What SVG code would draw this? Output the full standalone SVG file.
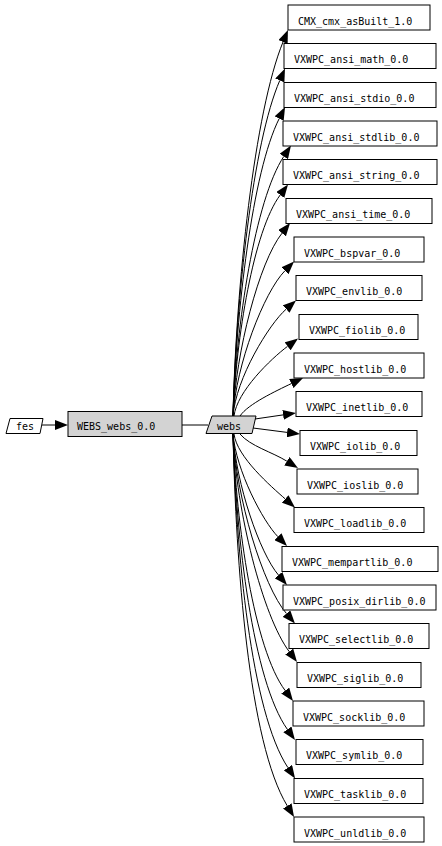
<svg xmlns="http://www.w3.org/2000/svg" width="442" height="846" viewBox="0 0 442 846">
<defs>
<marker id="ah" viewBox="0 0 13 10" refX="0" refY="5" markerWidth="13" markerHeight="10" markerUnits="userSpaceOnUse" orient="auto">
<path d="M0,0 L13,5 L0,10 z" fill="#000"/>
</marker>
<style>
.b{fill:#fff;stroke:#000;stroke-width:1}
.g{fill:#d3d3d3;stroke:#000;stroke-width:1}
.t{font-family:"DejaVu Sans Mono","Liberation Mono",monospace;font-size:10px;fill:#000}
.e{fill:none;stroke:#000;stroke-width:1;marker-end:url(#ah)}
.l{fill:none;stroke:#000;stroke-width:1}
</style>
</defs>
<rect width="442" height="846" fill="#fff"/>
<g id="edges">
<path class="e" d="M42,425 L55,425"/>
<path class="l" d="M182,425 L208,425"/>
<path class="e" d="M233,416 C236,284.8 254.7,111 283,42"/>
<path class="e" d="M233,416 C236,298.2 253,141.9 279.8,80.4"/>
<path class="e" d="M233,416 C236,311.6 252.4,171.6 279.2,118.6"/>
<path class="e" d="M233,416 C236,324.8 255.2,199.8 283.8,156.4"/>
<path class="e" d="M233,416 C236,338.3 253.6,230.4 280.2,195"/>
<path class="e" d="M233,416 C236,351.7 259,262.2 282,233.2"/>
<path class="e" d="M233,416 C236,364.9 263.9,292.2 284.9,270.8"/>
<path class="e" d="M233,416 C236,378.3 268.9,324.3 286.2,309.1"/>
<path class="e" d="M234,416 C237,391.4 270.8,358.9 287.6,346.3"/>
<path class="e" d="M240,416 C248,404 276,391 291.3,383.6"/>
<path class="e" d="M255,419 L283.1,414.9"/>
<path class="e" d="M253,428 L287.1,432.4"/>
<path class="e" d="M240,434 C250,446 272.5,452.2 286.9,461.2"/>
<path class="e" d="M234,434 C237,457 271,486.4 285.2,498.9"/>
<path class="e" d="M233,434 C236,470.2 262.8,521.3 277.9,536.7"/>
<path class="e" d="M233,434 C236,483.7 259.8,553.3 278.5,575.1"/>
<path class="e" d="M233,434 C236,497.1 262.7,585.7 286.5,613.6"/>
<path class="e" d="M233,434 C236,510.4 262.7,616.3 289.2,651.6"/>
<path class="e" d="M233,434 C236,524.1 254.2,649.3 285.2,690.6"/>
<path class="e" d="M233,434 C236,537.7 253,681.1 287.4,729.4"/>
<path class="e" d="M233,434 C236,551.1 251.1,711.9 287.9,767.6"/>
<path class="e" d="M233,434 C236,564.5 248.6,742.4 287.3,805.9"/>
</g>
<g id="fes"><polygon class="b" points="10,418.5 43,418.5 40,433.5 6,433.5"/><text class="t" x="16" y="430">fes</text></g>
<g id="WEBS_webs_0.0"><rect class="g" x="68" y="411.5" width="114" height="25"/><text class="t" x="77" y="430">WEBS_webs_0.0</text></g>
<g id="webs"><polygon class="g" points="212,416 256,416 252,433.5 206,433.5"/><text class="t" x="217" y="429.5">webs</text></g>
<g id="n0"><rect class="b" x="288" y="5" width="142" height="25"/><text class="t" x="298" y="24.5">CMX_cmx_asBuilt_1.0</text></g>
<g id="n1"><rect class="b" x="284" y="43.5" width="152" height="25"/><text class="t" x="294" y="63">VXWPC_ansi_math_0.0</text></g>
<g id="n2"><rect class="b" x="284" y="82.5" width="152" height="25"/><text class="t" x="294" y="102">VXWPC_ansi_stdio_0.0</text></g>
<g id="n3"><rect class="b" x="283" y="121" width="154" height="25"/><text class="t" x="293" y="140.5">VXWPC_ansi_stdlib_0.0</text></g>
<g id="n4"><rect class="b" x="283" y="159.5" width="154" height="25"/><text class="t" x="293" y="179">VXWPC_ansi_string_0.0</text></g>
<g id="n5"><rect class="b" x="286" y="198.5" width="146" height="25"/><text class="t" x="296" y="218">VXWPC_ansi_time_0.0</text></g>
<g id="n6"><rect class="b" x="294" y="237" width="130" height="25"/><text class="t" x="304" y="256.5">VXWPC_bspvar_0.0</text></g>
<g id="n7"><rect class="b" x="296" y="275.5" width="126" height="25"/><text class="t" x="306" y="295">VXWPC_envlib_0.0</text></g>
<g id="n8"><rect class="b" x="299" y="314.5" width="119" height="25"/><text class="t" x="309" y="334">VXWPC_fiolib_0.0</text></g>
<g id="n9"><rect class="b" x="294" y="353" width="130" height="25"/><text class="t" x="304" y="372.5">VXWPC_hostlib_0.0</text></g>
<g id="n10"><rect class="b" x="296" y="391.5" width="126" height="25"/><text class="t" x="306" y="411">VXWPC_inetlib_0.0</text></g>
<g id="n11"><rect class="b" x="300" y="430.5" width="117" height="25"/><text class="t" x="310" y="450">VXWPC_iolib_0.0</text></g>
<g id="n12"><rect class="b" x="297" y="469" width="121" height="25"/><text class="t" x="307" y="488.5">VXWPC_ioslib_0.0</text></g>
<g id="n13"><rect class="b" x="294" y="507.5" width="130" height="25"/><text class="t" x="304" y="527">VXWPC_loadlib_0.0</text></g>
<g id="n14"><rect class="b" x="282" y="546.5" width="156" height="25"/><text class="t" x="292" y="566">VXWPC_mempartlib_0.0</text></g>
<g id="n15"><rect class="b" x="283" y="585" width="153" height="25"/><text class="t" x="293" y="604.5">VXWPC_posix_dirlib_0.0</text></g>
<g id="n16"><rect class="b" x="289" y="623.5" width="140" height="25"/><text class="t" x="299" y="643">VXWPC_selectlib_0.0</text></g>
<g id="n17"><rect class="b" x="297" y="662.5" width="124" height="25"/><text class="t" x="307" y="682">VXWPC_siglib_0.0</text></g>
<g id="n18"><rect class="b" x="293" y="701" width="131" height="25"/><text class="t" x="303" y="720.5">VXWPC_socklib_0.0</text></g>
<g id="n19"><rect class="b" x="296" y="739.5" width="127" height="25"/><text class="t" x="306" y="759">VXWPC_symlib_0.0</text></g>
<g id="n20"><rect class="b" x="294" y="778.5" width="129" height="25"/><text class="t" x="304" y="798">VXWPC_tasklib_0.0</text></g>
<g id="n21"><rect class="b" x="294" y="817" width="130" height="25"/><text class="t" x="304" y="836.5">VXWPC_unldlib_0.0</text></g>
</svg>
